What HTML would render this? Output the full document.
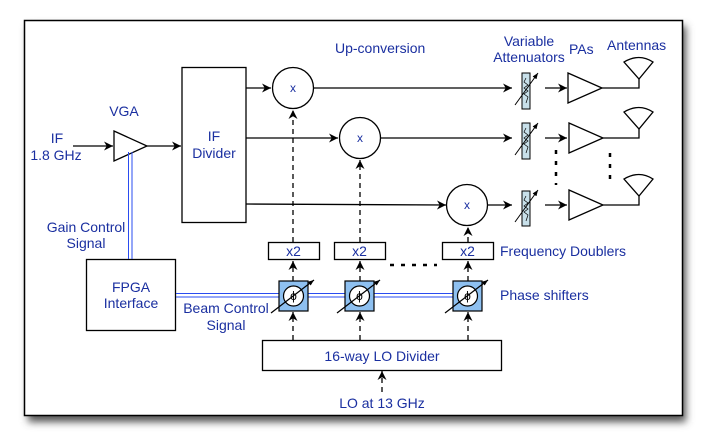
<!DOCTYPE html>
<html><head><style>
html,body{margin:0;padding:0;background:#fff;}
svg{display:block;}
text{font-family:"Liberation Sans",sans-serif;fill:#1a2fa0;}
</style></head><body>
<svg width="706" height="445" viewBox="0 0 706 445" xmlns="http://www.w3.org/2000/svg">
<defs>
<marker id="a" viewBox="0 0 10 10" refX="10" refY="5" markerWidth="9" markerHeight="9" orient="auto" markerUnits="userSpaceOnUse">
<path d="M0,0 L10,5 L0,10 L3,5 z" fill="#000"/></marker>
<marker id="s" viewBox="0 0 10 10" refX="10" refY="5" markerWidth="6" markerHeight="6" orient="auto" markerUnits="userSpaceOnUse">
<path d="M0,1 L10,5 L0,9 z" fill="#000"/></marker>
<filter id="sh" x="-5%" y="-5%" width="115%" height="120%"><feGaussianBlur stdDeviation="4"/></filter>
</defs>
<rect x="28" y="26" width="658" height="396" fill="#555" filter="url(#sh)"/>
<rect x="24.5" y="20.5" width="658" height="395" fill="#fff" stroke="#000" stroke-width="1.5"/>
<g stroke="#000" stroke-width="1.3" fill="none">
<line x1="73" y1="146" x2="113" y2="146" marker-end="url(#a)"/>
<polygon points="114,131 147,146 114,161" fill="#fff"/>
<line x1="147" y1="146" x2="181" y2="146" marker-end="url(#a)"/>
<rect x="182" y="67.5" width="64" height="155" fill="#fff"/>
<line x1="246" y1="88" x2="271" y2="88" marker-end="url(#a)"/>
<circle cx="293" cy="88" r="20.5" fill="#fff"/>
<line x1="314" y1="88" x2="512" y2="88" marker-end="url(#a)"/>
<line x1="246" y1="138" x2="338" y2="138" marker-end="url(#a)"/>
<circle cx="360" cy="138" r="20.5" fill="#fff"/>
<line x1="381" y1="138" x2="512" y2="138" marker-end="url(#a)"/>
<line x1="246" y1="204" x2="446" y2="205" marker-end="url(#a)"/>
<circle cx="467" cy="205" r="20.5" fill="#fff"/>
<line x1="488" y1="205" x2="512" y2="205" marker-end="url(#a)"/>
<line x1="545" y1="88" x2="567" y2="88" marker-end="url(#a)"/>
<line x1="545" y1="138" x2="567" y2="138" marker-end="url(#a)"/>
<line x1="545" y1="205" x2="567" y2="205" marker-end="url(#a)"/>
<polygon points="568,73 602,88 568,103" fill="#fff"/>
<polygon points="569,123 603,138 569,153" fill="#fff"/>
<polygon points="569,190 603,205 569,220" fill="#fff"/>
<polyline points="602,88 639,88 639,78"/>
<polyline points="603,138 639,138 639,128"/>
<polyline points="603,205 639,205 639,195"/>
<path d="M624,62 Q639,53 653,62 L639,79 Z"/>
<path d="M624,112 Q639,103 653,112 L639,129 Z"/>
<path d="M624,179 Q639,170 653,179 L639,196 Z"/>
<g stroke-dasharray="5,4">
<line x1="293" y1="242" x2="293" y2="110" marker-end="url(#a)"/>
<line x1="360" y1="242" x2="360" y2="160" marker-end="url(#a)"/>
<line x1="468" y1="242" x2="468" y2="227" marker-end="url(#a)"/>
<line x1="293" y1="281" x2="293" y2="261" marker-end="url(#a)"/>
<line x1="360" y1="281" x2="360" y2="261" marker-end="url(#a)"/>
<line x1="468" y1="281" x2="468" y2="261" marker-end="url(#a)"/>
<line x1="293" y1="340" x2="293" y2="312" marker-end="url(#a)"/>
<line x1="360" y1="340" x2="360" y2="312" marker-end="url(#a)"/>
<line x1="468" y1="340" x2="468" y2="312" marker-end="url(#a)"/>
<line x1="382" y1="392" x2="382" y2="371" marker-end="url(#a)"/>
</g>
<rect x="268.5" y="242.5" width="51" height="17" fill="#fff"/>
<rect x="334.5" y="242.5" width="51" height="17" fill="#fff"/>
<rect x="442.5" y="242.5" width="51" height="17" fill="#fff"/>
<rect x="262.5" y="340.5" width="239" height="30" fill="#fff"/>
<rect x="86.5" y="259.5" width="89" height="71" fill="#fff"/>
</g>
<g stroke="#000" stroke-width="2.5" stroke-dasharray="4,7" fill="none">
<line x1="390" y1="265" x2="437" y2="265"/>
<line x1="556" y1="150" x2="556" y2="185"/>
<line x1="610" y1="153" x2="610" y2="185"/>
</g>
<g stroke="#2a4cf0" stroke-width="1" fill="none">
<line x1="128.5" y1="152" x2="128.5" y2="259"/>
<line x1="132" y1="152" x2="132" y2="259"/>
<line x1="176" y1="293.5" x2="482" y2="293.5"/>
<line x1="176" y1="297" x2="482" y2="297"/>
</g>
<g stroke="#000" stroke-width="1.2">
<rect x="279" y="281" width="29" height="30" fill="#8ec0f0"/>
<circle cx="293.5" cy="296" r="10" fill="#fff"/>
<line x1="271" y1="313" x2="314" y2="280" marker-end="url(#s)"/>
<rect x="345" y="281" width="29" height="30" fill="#8ec0f0"/>
<circle cx="359.5" cy="296" r="10" fill="#fff"/>
<line x1="337" y1="313" x2="380" y2="280" marker-end="url(#s)"/>
<rect x="453" y="281" width="29" height="30" fill="#8ec0f0"/>
<circle cx="467.5" cy="296" r="10" fill="#fff"/>
<line x1="445" y1="313" x2="488" y2="280" marker-end="url(#s)"/>
</g>
<g font-size="12" text-anchor="middle" style="font-family:'DejaVu Sans',serif">
<text x="293.5" y="300" style="fill:#000">ϕ</text>
<text x="359.5" y="300" style="fill:#000">ϕ</text>
<text x="467.5" y="300" style="fill:#000">ϕ</text>
</g>
<g stroke="#000" stroke-width="1">
<rect x="522" y="73" width="8" height="36" fill="#c8e0ea"/>
<rect x="522" y="123" width="8" height="36" fill="#c8e0ea"/>
<rect x="522" y="191" width="8" height="35" fill="#c8e0ea"/>
<line x1="515" y1="105" x2="538" y2="73" marker-end="url(#s)"/>
<line x1="515" y1="155" x2="538" y2="123" marker-end="url(#s)"/>
<line x1="515" y1="222" x2="538" y2="190" marker-end="url(#s)"/>
<polyline fill="none" stroke-width="0.7" points="526,78 524,82 528,85 524,88 528,91 524,94 528,97 526,103"/>
<polyline fill="none" stroke-width="0.7" points="526,128 524,132 528,135 524,138 528,141 524,144 528,147 526,153"/>
<polyline fill="none" stroke-width="0.7" points="526,196 524,200 528,203 524,206 528,209 524,212 528,215 526,221"/>
</g>
<g font-size="14">
<text x="335" y="53">Up-conversion</text>
<text x="529" y="46" text-anchor="middle">Variable</text>
<text x="529" y="62" text-anchor="middle">Attenuators</text>
<text x="569" y="54">PAs</text>
<text x="607" y="50">Antennas</text>
<text x="124" y="116" text-anchor="middle">VGA</text>
<text x="57" y="143" text-anchor="middle">IF</text>
<text x="56" y="160" text-anchor="middle">1.8 GHz</text>
<text x="214" y="141" text-anchor="middle">IF</text>
<text x="214" y="158" text-anchor="middle">Divider</text>
<text x="293" y="92" text-anchor="middle" font-size="12">x</text>
<text x="360" y="142" text-anchor="middle" font-size="12">x</text>
<text x="467" y="209" text-anchor="middle" font-size="12">x</text>
<text x="293.5" y="256" text-anchor="middle">x2</text>
<text x="359.5" y="256" text-anchor="middle">x2</text>
<text x="467.5" y="256" text-anchor="middle">x2</text>
<text x="500" y="256">Frequency Doublers</text>
<text x="500" y="300">Phase shifters</text>
<text x="86" y="232" text-anchor="middle">Gain Control</text>
<text x="86" y="248" text-anchor="middle">Signal</text>
<text x="131" y="292" text-anchor="middle">FPGA</text>
<text x="131" y="308" text-anchor="middle">Interface</text>
<text x="226" y="313" text-anchor="middle">Beam Control</text>
<text x="226" y="330" text-anchor="middle">Signal</text>
<text x="382" y="361" text-anchor="middle">16-way  LO Divider</text>
<text x="382" y="408" text-anchor="middle">LO at 13 GHz</text>
</g>
</svg>
</body></html>
